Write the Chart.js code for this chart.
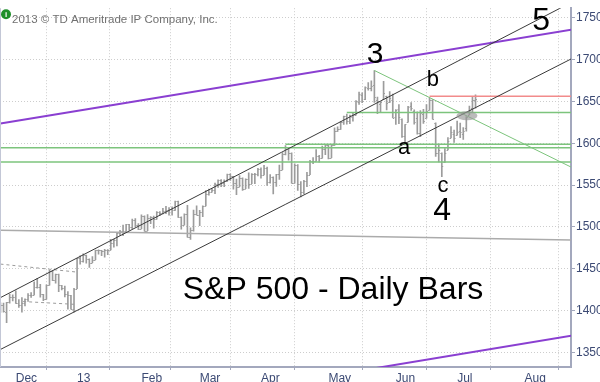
<!DOCTYPE html>
<html>
<head>
<meta charset="utf-8">
<title>S&amp;P 500 - Daily Bars</title>
<script src="https://cdn.jsdelivr.net/npm/chart.js@4.4.0/dist/chart.umd.min.js"></script>
<style>
  html, body { margin: 0; padding: 0; background: #fff; }
  #wrap { width: 600px; height: 382px; }
</style>
</head>
<body>
<div id="wrap"><canvas id="spxChart" width="600" height="382"></canvas></div>
<script>
// S&P 500 daily bars, one entry per trading day (Nov 26 2012 .. Jul 10 2013)
const barOpen = [
  1409.2, 1406.3, 1398.8, 1409.9, 1416.0, // Nov
  1416.3, 1409.5, 1407.1, 1409.4, 1413.9, 1418.1, 1418.6, 1427.8, 1428.5, 1419.5, 1413.5, 1430.5, 1446.8, 1436.0, 1443.7, 1430.2, 1426.7, 1419.8, 1418.1, 1402.4,
  1426.2, 1462.4, 1459.4, 1466.5, 1461.9, 1457.2, 1461.0, 1472.1, 1472.1, 1470.7, 1472.3, 1472.6, 1480.9, 1485.0, 1492.6, 1494.8, 1494.8, 1503.0, 1500.2, 1507.8, 1502.0,
  1498.1, 1513.2, 1495.7, 1511.3, 1512.1, 1509.4, 1517.9, 1517.0, 1519.4, 1520.3, 1521.4, 1519.8, 1530.9, 1512.0, 1502.4, 1515.6, 1487.9, 1496.9, 1516.0,
  1514.7, 1518.2, 1525.2, 1539.8, 1541.5, 1544.3, 1551.2, 1556.2, 1552.5, 1554.5, 1563.2, 1560.7, 1552.1, 1548.3, 1558.7, 1545.9, 1556.9, 1551.7, 1563.8, 1562.9,
  1569.2, 1562.2, 1570.3, 1553.7, 1560.0, 1553.3, 1563.1, 1568.6, 1587.7, 1593.3, 1588.8, 1552.4, 1574.6, 1552.0, 1541.6, 1555.3, 1562.5, 1578.8, 1578.8, 1585.2, 1582.3, 1593.6,
  1597.6, 1582.8, 1597.6, 1614.4, 1617.6, 1626.0, 1632.7, 1626.7, 1632.1, 1633.8, 1649.1, 1658.1, 1652.5, 1665.7, 1666.2, 1669.4, 1651.6, 1646.7, 1652.6, 1656.6, 1649.1, 1652.1,
  1631.7, 1640.7, 1629.1, 1609.3, 1625.3, 1644.7, 1638.6, 1629.9, 1612.2, 1635.5, 1630.6, 1639.8, 1651.8, 1624.6, 1588.6, 1588.8, 1577.5, 1592.3, 1606.4, 1611.1,
  1609.8, 1614.3, 1611.5, 1618.7, 1634.2, 1642.9, 1651.6
];
const barHigh = [
  1409.2, 1409.0, 1410.0, 1419.7, 1418.9,
  1423.7, 1413.1, 1415.6, 1413.9, 1420.3, 1421.6, 1434.3, 1438.6, 1431.4, 1419.5, 1430.7, 1448.0, 1447.8, 1443.7, 1443.7, 1430.2, 1429.4, 1422.8, 1418.1, 1426.7,
  1462.4, 1465.5, 1467.9, 1466.5, 1461.9, 1464.7, 1472.3, 1472.8, 1472.1, 1473.3, 1473.0, 1485.2, 1485.2, 1493.0, 1496.1, 1502.3, 1503.3, 1503.2, 1509.4, 1509.9, 1504.2,
  1514.4, 1513.2, 1514.9, 1512.5, 1512.9, 1518.3, 1518.3, 1522.3, 1524.7, 1523.1, 1524.2, 1530.9, 1530.9, 1512.0, 1515.6, 1525.8, 1498.9, 1520.1, 1525.3,
  1520.0, 1525.3, 1543.5, 1545.3, 1545.8, 1552.5, 1556.3, 1556.8, 1556.4, 1563.3, 1563.6, 1560.7, 1557.3, 1561.6, 1558.7, 1557.7, 1564.9, 1564.0, 1564.1, 1570.3,
  1570.6, 1573.7, 1571.5, 1562.6, 1560.0, 1563.1, 1573.9, 1589.1, 1597.4, 1593.3, 1588.8, 1575.4, 1574.6, 1554.4, 1555.9, 1565.5, 1579.6, 1583.0, 1592.6, 1585.8, 1596.7, 1597.6,
  1597.6, 1598.6, 1618.5, 1619.8, 1626.0, 1632.8, 1635.0, 1633.7, 1636.0, 1651.1, 1661.5, 1660.5, 1667.5, 1672.8, 1674.9, 1687.2, 1655.5, 1649.8, 1674.2, 1656.6, 1661.9, 1659.0,
  1640.4, 1646.5, 1629.3, 1622.6, 1644.4, 1648.7, 1640.1, 1637.7, 1639.3, 1640.8, 1646.5, 1654.2, 1652.5, 1624.6, 1599.2, 1588.8, 1593.8, 1606.8, 1620.1, 1615.9,
  1626.6, 1624.3, 1619.0, 1632.1, 1644.7, 1655.9, 1658.0
];
const barLow = [
  1397.7, 1398.0, 1385.4, 1409.0, 1411.6,
  1408.5, 1403.7, 1398.2, 1405.6, 1410.9, 1415.6, 1418.6, 1426.8, 1416.0, 1411.9, 1413.5, 1430.5, 1435.8, 1432.8, 1422.6, 1424.7, 1416.4, 1401.8, 1401.6, 1398.1,
  1426.2, 1455.5, 1458.0, 1456.6, 1451.6, 1457.2, 1461.0, 1467.6, 1465.7, 1463.8, 1467.0, 1472.6, 1475.8, 1477.3, 1489.9, 1489.5, 1494.8, 1496.3, 1498.1, 1500.1, 1496.8,
  1498.1, 1495.0, 1495.7, 1504.0, 1498.5, 1509.4, 1513.6, 1515.6, 1515.9, 1514.0, 1514.1, 1519.8, 1511.4, 1497.3, 1502.4, 1487.9, 1485.0, 1494.9, 1514.5,
  1501.5, 1512.3, 1525.2, 1538.1, 1541.5, 1539.9, 1547.4, 1548.2, 1548.3, 1554.5, 1555.7, 1545.1, 1538.6, 1548.3, 1543.6, 1545.9, 1546.2, 1551.7, 1551.9, 1561.1,
  1558.5, 1562.2, 1549.8, 1552.5, 1539.5, 1548.6, 1557.0, 1568.6, 1586.2, 1580.0, 1552.3, 1552.4, 1543.7, 1536.0, 1539.4, 1548.2, 1562.5, 1575.8, 1578.8, 1577.6, 1582.3, 1586.5,
  1581.3, 1582.8, 1597.6, 1614.2, 1616.6, 1622.7, 1623.1, 1623.7, 1626.7, 1633.8, 1646.7, 1648.6, 1652.4, 1663.5, 1662.7, 1648.9, 1635.5, 1636.6, 1652.6, 1640.1, 1648.6, 1630.7,
  1622.7, 1623.6, 1607.1, 1598.2, 1625.3, 1639.3, 1622.9, 1610.9, 1608.1, 1624.0, 1630.3, 1639.8, 1628.9, 1584.3, 1577.7, 1560.3, 1577.1, 1592.3, 1606.4, 1601.1,
  1609.8, 1606.8, 1604.6, 1614.7, 1634.2, 1637.0, 1642.2
];
const barClose = [
  1406.3, 1398.9, 1409.9, 1415.9, 1416.2,
  1409.5, 1407.1, 1409.3, 1413.9, 1418.1, 1418.6, 1427.8, 1428.5, 1419.5, 1413.6, 1430.4, 1446.8, 1436.0, 1443.7, 1430.2, 1426.7, 1419.8, 1418.1, 1402.4, 1426.2,
  1462.4, 1459.4, 1466.5, 1461.9, 1457.2, 1461.0, 1472.1, 1472.1, 1470.7, 1472.3, 1472.6, 1480.9, 1485.0, 1492.6, 1494.8, 1494.8, 1503.0, 1500.2, 1507.8, 1502.0, 1498.1,
  1513.2, 1495.7, 1511.3, 1512.1, 1509.4, 1517.9, 1517.0, 1519.4, 1520.3, 1521.4, 1519.8, 1530.9, 1512.0, 1502.4, 1515.6, 1487.9, 1496.9, 1516.0, 1514.7,
  1518.2, 1525.2, 1539.8, 1541.5, 1544.3, 1551.2, 1556.2, 1552.5, 1554.5, 1563.2, 1560.7, 1552.1, 1548.3, 1558.7, 1545.8, 1556.9, 1551.7, 1563.8, 1562.9, 1569.2,
  1562.2, 1570.3, 1553.7, 1560.0, 1553.3, 1563.1, 1568.6, 1587.7, 1593.4, 1588.9, 1552.4, 1574.6, 1552.0, 1541.6, 1555.3, 1562.5, 1578.8, 1578.8, 1585.2, 1582.2, 1593.6, 1597.6,
  1582.7, 1597.6, 1614.4, 1617.5, 1626.0, 1632.7, 1626.7, 1633.7, 1633.8, 1650.3, 1658.8, 1650.5, 1667.5, 1666.3, 1669.2, 1655.4, 1650.5, 1649.6, 1660.1, 1648.4, 1654.4, 1630.7,
  1640.4, 1631.4, 1608.9, 1622.6, 1643.4, 1642.8, 1626.1, 1612.5, 1636.4, 1626.7, 1639.0, 1651.8, 1628.9, 1588.2, 1592.4, 1573.1, 1588.0, 1603.3, 1613.2, 1606.3,
  1614.1, 1614.1, 1615.4, 1631.9, 1640.5, 1652.3, 1652.6
];

// axis ticks (x is the trading-day index)
const yTicks = [1350, 1400, 1450, 1500, 1550, 1600, 1650, 1700, 1750];
const monthStarts = [5, 25, 46, 65, 85, 107, 129, 149, 171];
const monthLabels = ['Dec', '13', 'Feb', 'Mar', 'Apr', 'May', 'Jun', 'Jul', 'Aug'];

// drawn trend lines: [[day, price], [day, price]]
const channelUpper = [[0, 1415.5], [186.2, 1768.5]];
const channelLower = [[0, 1353.5], [186.2, 1701.0]];
const purpleUpper = [[0, 1623.7], [186.2, 1736.0]];
const purpleLower = [[110, 1323.6], [186.2, 1370.0]];
const grayLine = [[0, 1496.0], [186.2, 1484.5]];
const greenLevel1 = [[0, 1594.8], [186.2, 1594.8]];
const greenLevel2 = [[0, 1577.7], [186.2, 1577.7]];
const greenLevel3 = [[93, 1599.0], [186.2, 1599.0]];
const greenLevel4 = [[113, 1636.9], [186.2, 1636.9]];
const greenFalling = [[122, 1687.2], [186.2, 1571.6]];
const redLevel = [[140, 1656.4], [186.2, 1656.4]];
const dashedTop = [[0, 1455.6], [25, 1446.0]];
const dashedBottom = [[7.4, 1410.8], [25, 1407.3]];

const axisColor = '#3c4a74';
const barColor = '#9c9c9c';

function toPoints(pairs) {
    return pairs.map(p => ({ x: p[0], y: p[1] }));
}

function trend(pairs, color, width, dash) {
    return {
        type: 'line',
        data: toPoints(pairs),
        borderColor: color,
        borderWidth: width,
        borderDash: dash || [],
        pointRadius: 0,
        fill: false,
        tension: 0
    };
}

// open / close ticks on every bar
const openCloseTicks = {
    id: 'openCloseTicks',
    beforeDatasetsDraw(chart) {
        const { ctx, scales: { x, y } } = chart;
        ctx.save();
        ctx.strokeStyle = barColor;
        ctx.lineWidth = 1;
        ctx.beginPath();
        barOpen.forEach((o, i) => {
            const px = x.getPixelForValue(i);
            const yo = Math.round(y.getPixelForValue(o)) + 0.5;
            const yc = Math.round(y.getPixelForValue(barClose[i])) + 0.5;
            ctx.moveTo(px - 1.4, yo);
            ctx.lineTo(px, yo);
            ctx.moveTo(px, yc);
            ctx.lineTo(px + 1.4, yc);
        });
        ctx.stroke();
        ctx.restore();
    }
};

// wave labels, title, marker ellipse and copyright line
const annotations = {
    id: 'annotations',
    afterDatasetsDraw(chart) {
        const { ctx, chartArea, scales: { x, y } } = chart;
        ctx.save();

        // grey blob where price came back through the channel
        ctx.fillStyle = 'rgba(150, 150, 150, 0.65)';
        ctx.beginPath();
        ctx.ellipse(x.getPixelForValue(152.2), y.getPixelForValue(1633), 10.5, 4.5, 0, 0, Math.PI * 2);
        ctx.fill();

        const labels = [
            { text: '3', day: 122.2, price: 1705.6, size: 30 },
            { text: '5', day: 176.4, price: 1746.5, size: 32 },
            { text: '4', day: 144.1, price: 1518.4, size: 32 },
            { text: 'a', day: 131.7, price: 1595.0, size: 22 },
            { text: 'b', day: 141.1, price: 1675.7, size: 22 },
            { text: 'c', day: 144.4, price: 1548.6, size: 22 },
            { text: 'S&P 500 - Daily Bars', day: 108.5, price: 1424.9, size: 32 }
        ];
        ctx.fillStyle = '#000';
        ctx.textAlign = 'center';
        ctx.textBaseline = 'middle';
        labels.forEach(l => {
            ctx.font = l.size + 'px "Liberation Sans", Arial, sans-serif';
            ctx.fillText(l.text, x.getPixelForValue(l.day), y.getPixelForValue(l.price));
        });

        // info icon + copyright
        ctx.fillStyle = '#1f8f2a';
        ctx.beginPath();
        ctx.arc(chartArea.left + 6, chartArea.top + 6, 5, 0, Math.PI * 2);
        ctx.fill();
        ctx.fillStyle = '#fff';
        ctx.font = 'bold 8px "Liberation Sans", Arial, sans-serif';
        ctx.fillText('i', chartArea.left + 6, chartArea.top + 6.5);

        ctx.fillStyle = '#707070';
        ctx.textAlign = 'left';
        ctx.font = '11.5px "Liberation Sans", Arial, sans-serif';
        ctx.fillText('2013 \u00a9 TD Ameritrade IP Company, Inc.', chartArea.left + 12, chartArea.top + 12);

        // thin frame on the left edge
        ctx.strokeStyle = '#c3c7d6';
        ctx.lineWidth = 1;
        ctx.beginPath();
        ctx.moveTo(chartArea.left + 0.5, chartArea.top);
        ctx.lineTo(chartArea.left + 0.5, chartArea.bottom);
        ctx.stroke();
        ctx.restore();
    }
};

const ctx = document.getElementById('spxChart').getContext('2d');
const spxChart = new Chart(ctx, {
    type: 'line',
    data: {
        datasets: [
            trend(channelUpper, '#3a3a3a', 1),
            trend(channelLower, '#3a3a3a', 1),
            trend(purpleUpper, '#8a3fd1', 2),
            trend(purpleLower, '#8a3fd1', 2),
            trend(greenLevel1, '#7cc47c', 1.5),
            trend(greenLevel2, '#7cc47c', 1.5),
            trend(greenLevel3, '#7cc47c', 1.5),
            trend(greenLevel4, '#7cc47c', 1.5),
            trend(greenFalling, '#7cc47c', 1),
            trend(redLevel, '#f28b8b', 1.5),
            trend(grayLine, '#ababab', 1.5),
            trend(dashedTop, '#9a9a9a', 1, [3, 3]),
            trend(dashedBottom, '#9a9a9a', 1, [3, 3]),
            {
                type: 'bar',
                data: barHigh.map((h, i) => ({ x: i, y: [barLow[i], h] })),
                backgroundColor: barColor,
                borderWidth: 0,
                barThickness: 1,
                grouped: false,
                order: 10
            }
        ]
    },
    options: {
        responsive: false,
        animation: false,
        devicePixelRatio: 1,
        events: [],
        layout: { padding: 0 },
        plugins: {
            legend: { display: false },
            tooltip: { enabled: false }
        },
        scales: {
            x: {
                type: 'linear',
                min: -0.15,
                max: 186.15,
                offset: false,
                afterBuildTicks: axis => {
                    axis.ticks = monthStarts.map(v => ({ value: v }));
                },
                afterFit: axis => {
                    axis.height = 15;
                },
                ticks: {
                    autoSkip: false,
                    maxRotation: 0,
                    align: 'start',
                    padding: 1,
                    color: axisColor,
                    font: { family: '"Liberation Sans", Arial, sans-serif', size: 12 },
                    callback: (value, index) => monthLabels[index]
                },
                grid: {
                    color: '#cdcdcd',
                    lineWidth: 1,
                    tickLength: 3,
                    tickColor: '#a3a8bd',
                    tickBorderDash: []
                },
                border: { display: true, color: '#a3a8bd', width: 2, dash: [1, 2] }
            },
            y: {
                type: 'linear',
                position: 'right',
                min: 1332.5,
                max: 1761.7,
                afterBuildTicks: axis => {
                    axis.ticks = yTicks.map(v => ({ value: v }));
                },
                afterFit: axis => {
                    axis.width = 29;
                },
                ticks: {
                    padding: 1,
                    color: axisColor,
                    font: { family: '"Liberation Sans", Arial, sans-serif', size: 12 },
                    callback: value => String(value)
                },
                grid: {
                    color: '#cdcdcd',
                    lineWidth: 1,
                    tickLength: 4,
                    tickColor: '#a3a8bd',
                    tickBorderDash: []
                },
                border: { display: true, color: '#a3a8bd', width: 2, dash: [1, 2] }
            }
        }
    },
    plugins: [openCloseTicks, annotations]
});
</script>
</body>
</html>
